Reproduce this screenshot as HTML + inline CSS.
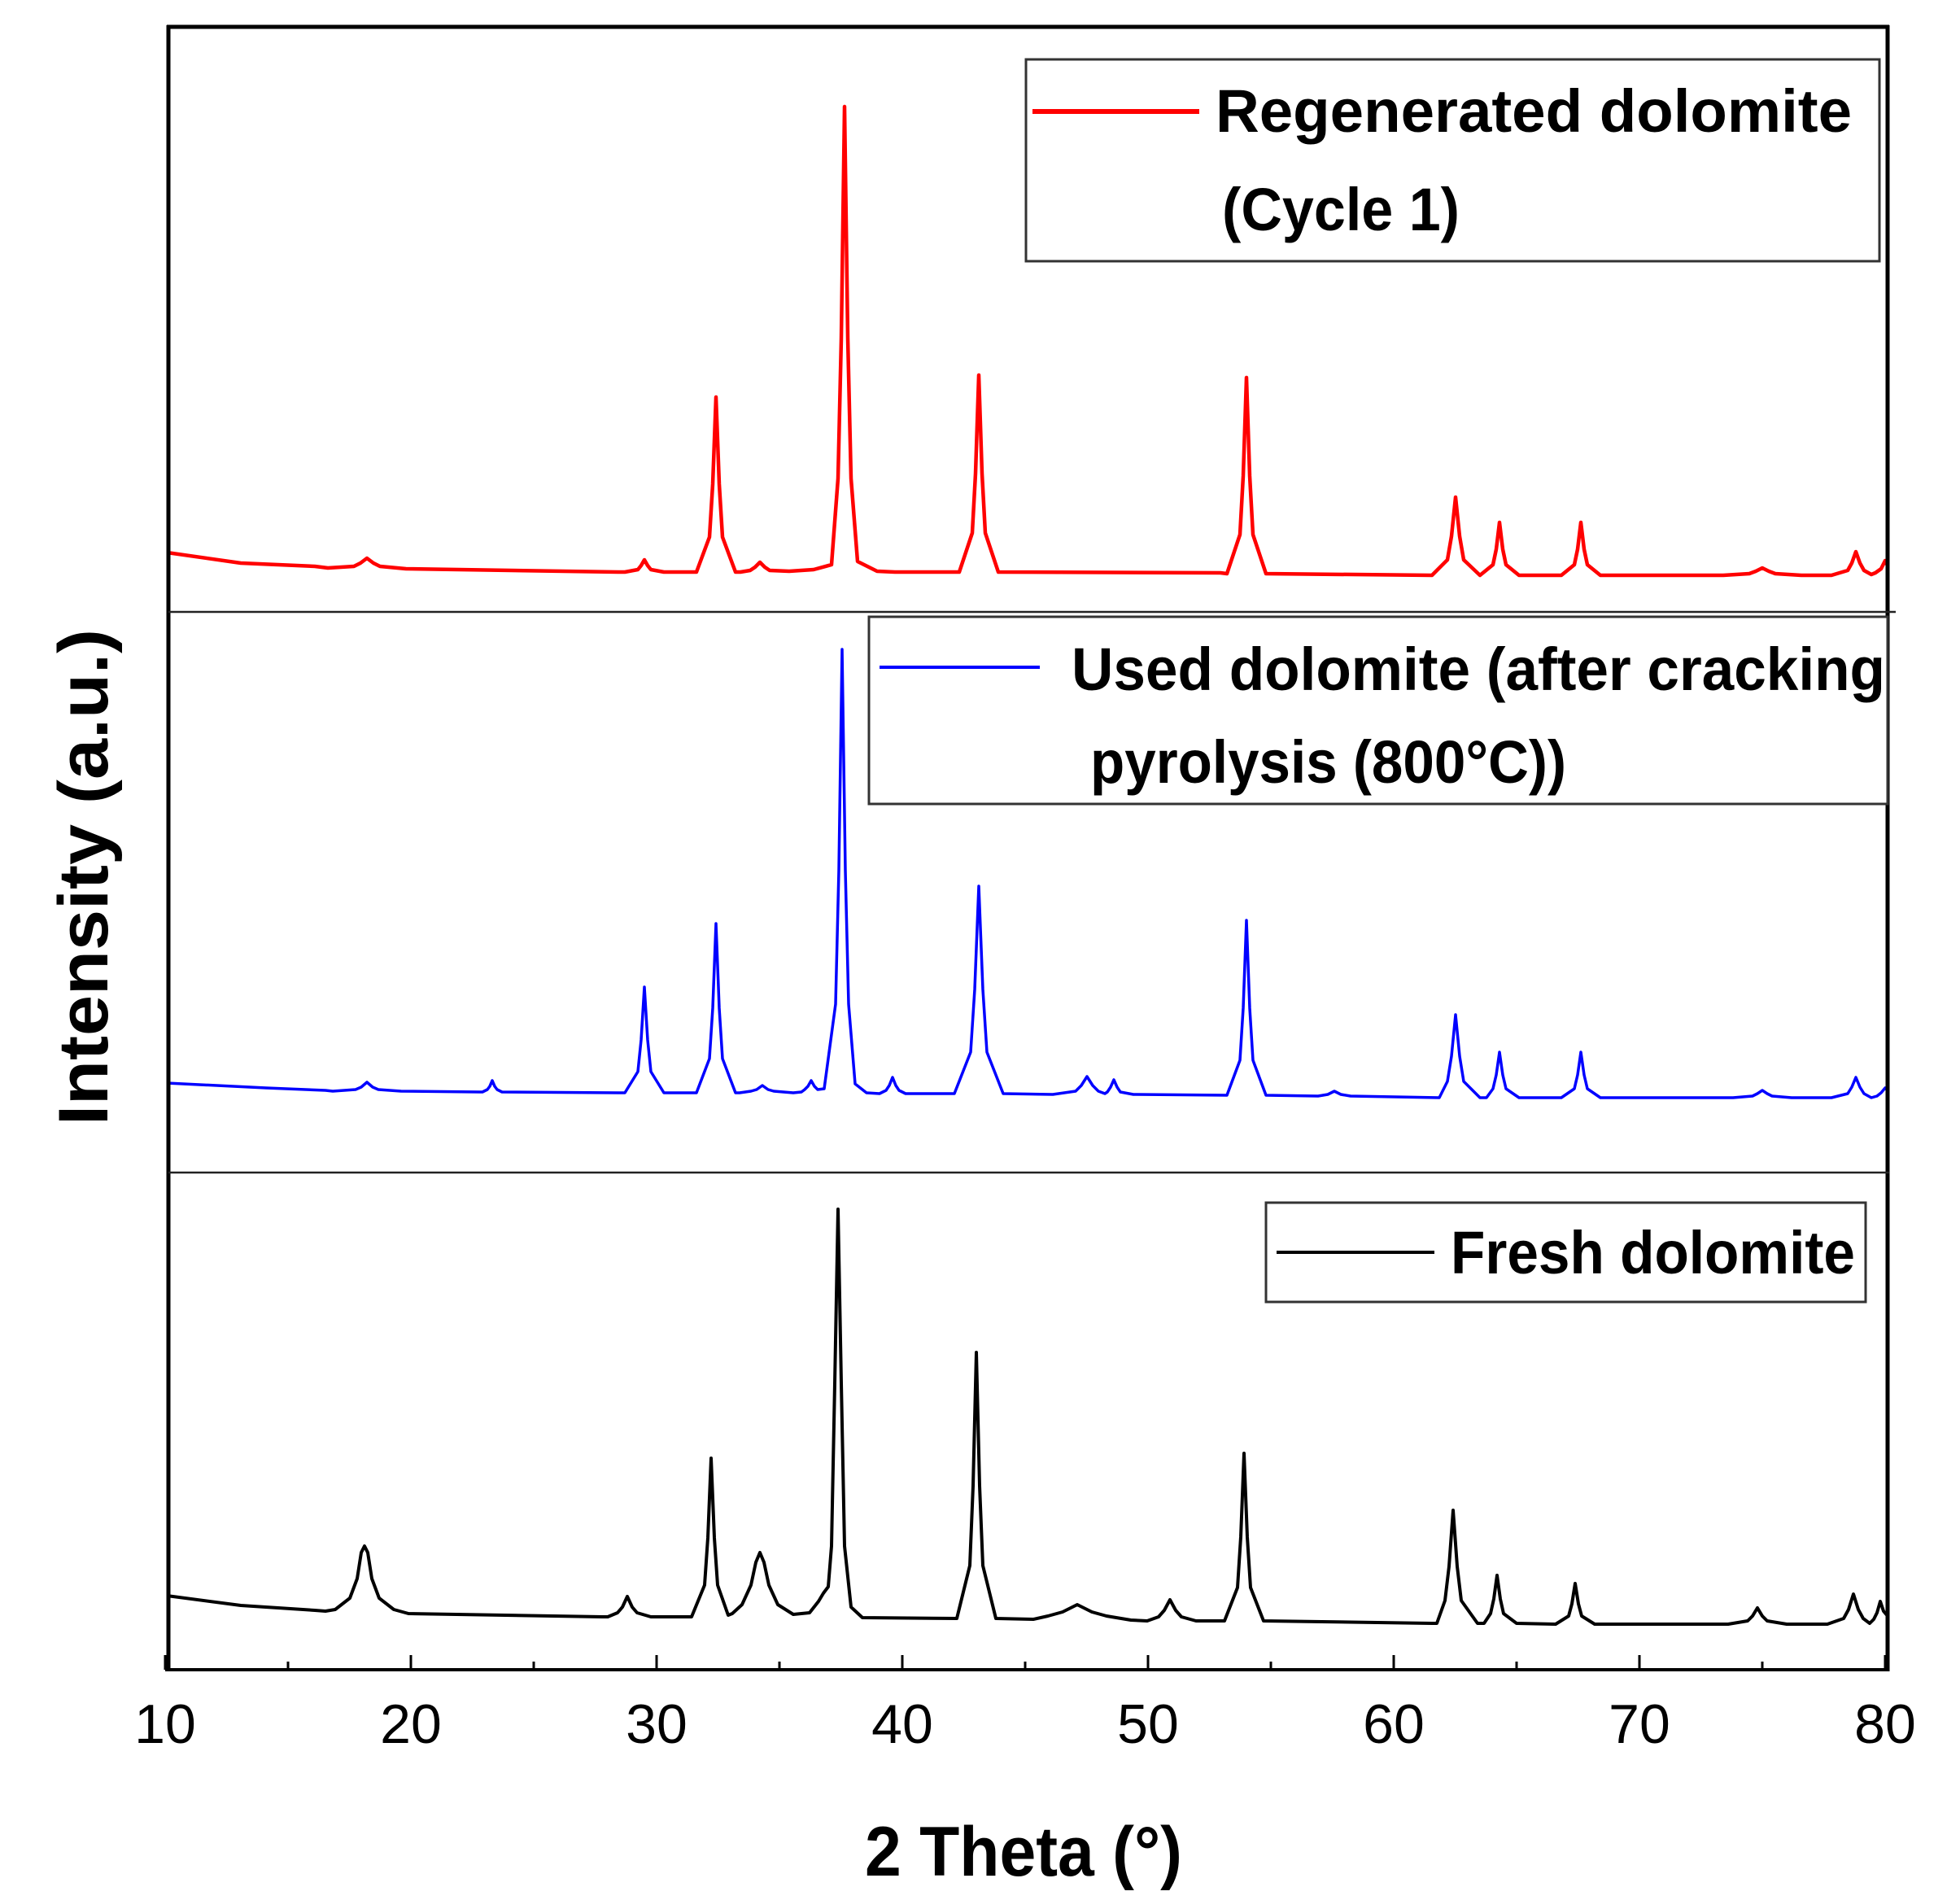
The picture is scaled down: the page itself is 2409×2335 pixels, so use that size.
<!DOCTYPE html>
<html><head><meta charset="utf-8"><style>
html,body{margin:0;padding:0;background:#fff;}
svg{display:block;}
text{font-family:"Liberation Sans",sans-serif;}
</style></head><body>
<svg width="2409" height="2335" viewBox="0 0 2409 2335" xmlns="http://www.w3.org/2000/svg">
<rect width="2409" height="2335" fill="#fff"/>
<g fill="none" stroke-linejoin="round">
<path stroke="#f00" stroke-width="4.5" d="M205,679 L296,692 L387,696 L403,698 L435,696 L443,692 L451,686 L459,692 L467,696 L499,699 L760,703 L768,703 L784,700 L788,695 L792,688 L796,695 L800,700 L816,703 L856,703 L872,660 L876,595 L880,488 L884,595 L888,660 L904,703 L910,703 L922,701 L928,697 L934,691 L940,697 L946,701 L970,702 L1000,700 L1022,694 L1030,588 L1034,416 L1038,131 L1042,416 L1046,588 L1054,690 L1078,702 L1100,703 L1179,703 L1195,655 L1199,582 L1203,461 L1207,582 L1211,655 L1227,703 L1500,704 L1508,705 L1524,657 L1528,585 L1532,464 L1536,585 L1540,657 L1556,705 L1760,707 L1779,688 L1784,659 L1789,611 L1794,659 L1799,688 L1819,707 L1835,694 L1839,675 L1843,642 L1847,675 L1851,694 L1867,707 L1919,707 L1935,694 L1939,675 L1943,642 L1947,675 L1951,694 L1967,707 L2118,707 L2150,705 L2158,702 L2166,698 L2174,702 L2182,705 L2214,707 L2251,707 L2271,701 L2276,692 L2281,678 L2286,692 L2291,701 L2300,706 L2305,704 L2312,699 L2317,689 L2320,695"/>
<path stroke="#00f" stroke-width="3.5" d="M205,1331 L327,1337 L400,1340 L409,1341 L437,1339 L444,1336 L451,1330 L458,1336 L465,1339 L493,1341 L590,1342 L593,1342 L599,1339 L602,1335 L605,1328 L608,1335 L611,1339 L617,1342 L760,1343 L768,1343 L784,1317 L788,1278 L792,1213 L796,1278 L800,1317 L816,1343 L856,1343 L872,1301 L876,1239 L880,1135 L884,1239 L888,1301 L904,1343 L909,1343 L923,1341 L930,1339 L937,1334 L944,1339 L951,1341 L975,1343 L985,1342 L989,1339 L993,1335 L997,1328 L1001,1335 L1005,1339 L1013,1338 L1027,1234 L1031,1070 L1035,798 L1039,1070 L1043,1234 L1051,1332 L1065,1343 L1081,1344 L1089,1340 L1093,1334 L1097,1324 L1101,1334 L1105,1340 L1113,1344 L1173,1344 L1193,1293 L1198,1216 L1203,1089 L1208,1216 L1213,1293 L1233,1344 L1294,1345 L1322,1341 L1329,1334 L1336,1323 L1343,1334 L1350,1341 L1358,1344 L1361,1342 L1365,1336 L1369,1327 L1373,1336 L1377,1342 L1393,1345 L1508,1346 L1524,1303 L1528,1239 L1532,1131 L1536,1239 L1540,1303 L1556,1346 L1620,1347 L1632,1345 L1640,1341 L1648,1345 L1660,1347 L1769,1349 L1779,1329 L1784,1298 L1789,1247 L1794,1298 L1799,1329 L1819,1349 L1827,1349 L1835,1338 L1839,1321 L1843,1293 L1847,1321 L1851,1338 L1867,1349 L1919,1349 L1935,1338 L1939,1321 L1943,1293 L1947,1321 L1951,1338 L1967,1349 L2130,1349 L2154,1347 L2160,1344 L2166,1340 L2172,1344 L2178,1347 L2202,1349 L2251,1349 L2271,1344 L2276,1336 L2281,1324 L2286,1336 L2291,1344 L2300,1349 L2307,1347 L2312,1343 L2317,1337 L2320,1340"/>
<path stroke="#000" stroke-width="4" d="M205,1961 L296,1973 L387,1979 L400,1980 L412,1978 L430,1964 L439,1940 L444,1908 L448,1900 L452,1908 L457,1940 L466,1964 L484,1978 L502,1983 L740,1987 L747,1987 L759,1982 L765,1975 L771,1962 L777,1975 L783,1982 L800,1987 L850,1987 L866,1948 L870,1890 L874,1792 L878,1890 L882,1948 L895,1985 L900,1983 L912,1972 L923,1948 L929,1920 L934,1908 L939,1920 L945,1948 L956,1972 L975,1984 L995,1982 L1006,1968 L1012,1958 L1018,1950 L1022,1900 L1026,1700 L1030,1486 L1034,1700 L1038,1900 L1046,1975 L1060,1988 L1176,1989 L1192,1924 L1196,1826 L1200,1662 L1204,1826 L1208,1924 L1224,1989 L1270,1990 L1288,1986 L1306,1981 L1324,1972 L1342,1981 L1360,1986 L1390,1991 L1410,1992 L1424,1987 L1431,1979 L1438,1966 L1445,1979 L1452,1987 L1470,1992 L1505,1992 L1521,1951 L1525,1889 L1529,1786 L1533,1889 L1537,1951 L1553,1992 L1760,1995 L1766,1995 L1776,1967 L1781,1925 L1786,1856 L1791,1925 L1796,1967 L1816,1995 L1824,1995 L1832,1983 L1836,1965 L1840,1936 L1844,1965 L1848,1983 L1864,1995 L1912,1996 L1928,1986 L1932,1971 L1936,1946 L1940,1971 L1944,1986 L1960,1996 L2124,1996 L2148,1992 L2154,1986 L2160,1976 L2166,1986 L2172,1992 L2196,1996 L2246,1996 L2266,1989 L2272,1978 L2278,1959 L2284,1978 L2290,1989 L2298,1995 L2303,1990 L2307,1982 L2311,1968 L2315,1980 L2320,1986"/>
</g>
<line x1="207" y1="31" x2="207" y2="2054" stroke="#000" stroke-width="5"/>
<line x1="205" y1="33" x2="2322" y2="33" stroke="#000" stroke-width="5"/>
<line x1="2320" y1="31" x2="2320" y2="2054" stroke="#000" stroke-width="5"/>
<line x1="203" y1="2052" x2="2322" y2="2052" stroke="#000" stroke-width="4"/>
<line x1="207" y1="752" x2="2330" y2="752" stroke="#222" stroke-width="2.5"/>
<line x1="207" y1="1441" x2="2322" y2="1441" stroke="#222" stroke-width="2.5"/>
<g stroke="#000" stroke-width="3">
<line x1="203" y1="2052" x2="203" y2="2034"/><line x1="354" y1="2052" x2="354" y2="2042"/>
<line x1="505" y1="2052" x2="505" y2="2034"/><line x1="656" y1="2052" x2="656" y2="2042"/>
<line x1="807" y1="2052" x2="807" y2="2034"/><line x1="958" y1="2052" x2="958" y2="2042"/>
<line x1="1109" y1="2052" x2="1109" y2="2034"/><line x1="1260" y1="2052" x2="1260" y2="2042"/>
<line x1="1411" y1="2052" x2="1411" y2="2034"/><line x1="1562" y1="2052" x2="1562" y2="2042"/>
<line x1="1713" y1="2052" x2="1713" y2="2034"/><line x1="1864" y1="2052" x2="1864" y2="2042"/>
<line x1="2015" y1="2052" x2="2015" y2="2034"/><line x1="2166" y1="2052" x2="2166" y2="2042"/>
<line x1="2317" y1="2052" x2="2317" y2="2034"/>
</g>
<g font-size="68" text-anchor="middle" fill="#000">
<text x="203" y="2142">10</text><text x="505" y="2142">20</text><text x="807" y="2142">30</text>
<text x="1109" y="2142">40</text><text x="1411" y="2142">50</text><text x="1713" y="2142">60</text>
<text x="2015" y="2142">70</text><text x="2317" y="2142">80</text>
</g>
<text x="1258" y="2305" font-size="86" font-weight="bold" text-anchor="middle" textLength="390" lengthAdjust="spacingAndGlyphs">2 Theta (°)</text>
<text transform="translate(132,1078) rotate(-90)" font-size="86" font-weight="bold" text-anchor="middle" textLength="610" lengthAdjust="spacingAndGlyphs">Intensity (a.u.)</text>
<rect x="1261" y="73" width="1049" height="248" fill="#fff" stroke="#333" stroke-width="3"/>
<line x1="1269" y1="137" x2="1474" y2="137" stroke="#f00" stroke-width="6"/>
<text x="1494" y="162" font-size="74" font-weight="bold" textLength="782" lengthAdjust="spacingAndGlyphs">Regenerated dolomite</text>
<text x="1502" y="283" font-size="74" font-weight="bold" textLength="292" lengthAdjust="spacingAndGlyphs">(Cycle 1)</text>
<rect x="1068" y="758" width="1252" height="230" fill="#fff" stroke="#333" stroke-width="3"/>
<line x1="1081" y1="820" x2="1278" y2="820" stroke="#00f" stroke-width="4"/>
<text x="1317" y="848" font-size="74" font-weight="bold" textLength="1000" lengthAdjust="spacingAndGlyphs">Used dolomite (after cracking</text>
<text x="1340" y="962" font-size="74" font-weight="bold" textLength="585" lengthAdjust="spacingAndGlyphs">pyrolysis (800°C))</text>
<rect x="1556" y="1478" width="737" height="122" fill="#fff" stroke="#333" stroke-width="3"/>
<line x1="1569" y1="1539" x2="1763" y2="1539" stroke="#000" stroke-width="4"/>
<text x="1783" y="1565" font-size="74" font-weight="bold" textLength="497" lengthAdjust="spacingAndGlyphs">Fresh dolomite</text>
</svg>
</body></html>
